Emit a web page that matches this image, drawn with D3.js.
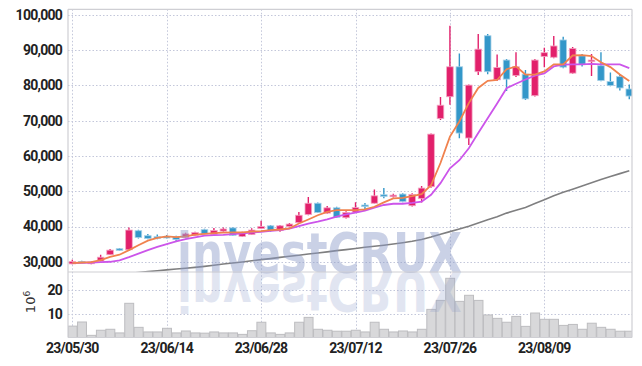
<!DOCTYPE html>
<html>
<head>
<meta charset="utf-8">
<script src="https://cdn.jsdelivr.net/npm/d3@7"></script>
<style>
  body { margin: 0; background: #fff; }
  svg { display: block; }
  .tick text { font-family: "Roboto", sans-serif; font-weight: bold; font-size: 14px; letter-spacing: -0.75px; fill: #222; }
</style>
</head>
<body>
<div id="chart"></div>
<script>
// trading days shown on the chart
const dates = ["23/05/30","23/05/31","23/06/01","23/06/02","23/06/05","23/06/07","23/06/08","23/06/09","23/06/12","23/06/13",
               "23/06/14","23/06/15","23/06/16","23/06/19","23/06/20","23/06/21","23/06/22","23/06/23","23/06/26","23/06/27",
               "23/06/28","23/06/29","23/06/30","23/07/03","23/07/04","23/07/05","23/07/06","23/07/07","23/07/10","23/07/11",
               "23/07/12","23/07/13","23/07/14","23/07/17","23/07/18","23/07/19","23/07/20","23/07/21","23/07/24","23/07/25",
               "23/07/26","23/07/27","23/07/28","23/07/31","23/08/01","23/08/02","23/08/03","23/08/04","23/08/07","23/08/08",
               "23/08/09","23/08/10","23/08/11","23/08/14","23/08/16","23/08/17","23/08/18","23/08/21","23/08/22","23/08/23"];

const open  = [29400,30100,29800,30200,32000,33700,33400,38800,37400,37100,
               37200,37100,36900,37500,39100,37800,38700,39600,37200,37700,
               39400,40200,38900,40000,41100,43400,46600,43800,45300,42500,
               44100,46100,46600,49000,48700,49200,45900,47900,51300,70600,
               76800,85300,65100,83900,94100,81600,87200,82800,83200,77100,
               88200,88000,92900,83500,88400,86800,85600,81100,82500,79000];
const high  = [30600,30300,30000,32000,33600,33900,39700,39100,37900,37700,
               37600,37400,38200,38500,39400,39600,39700,39800,38500,39500,
               41600,40400,40400,41000,44100,48400,46800,45800,45600,44300,
               46900,46700,50500,50900,49300,49400,49400,51500,66400,76700,
               96900,89100,80300,94600,94600,88800,87500,89400,84400,87500,
               90700,94000,93800,90900,88900,88900,89400,83700,83200,80300];
const low   = [29300,29800,29300,30100,31900,33100,33200,36600,36400,36400,
               36600,35700,36700,37300,37800,37700,38500,37300,37000,37600,
               39300,38500,38500,39800,41000,43200,43800,43600,42400,42300,
               44000,44600,46500,48000,48200,46900,45700,46800,51000,70200,
               74500,65000,63100,83000,83200,81300,78400,82400,75900,76900,
               85200,87700,84900,83300,85400,82700,81200,79800,78600,76100];
const close = [30100,29950,29900,31300,33300,33500,39000,36900,36600,36700,
               37000,36300,37900,38300,37900,38900,39300,37500,38300,39000,
               40000,38800,40200,40700,43200,46600,44000,45300,42600,44000,
               45400,45900,48700,48800,48900,47100,49100,50900,66200,74400,
               85300,66500,80100,90300,83900,85100,81800,85300,76200,87200,
               89300,91200,85200,90500,86000,87200,81400,80000,79300,77000];

// volume in millions of shares
const volume = [5.1,6.8,1.3,3.4,3.8,2.3,14.5,4.6,2.7,2.7,
                4.2,2.3,3.1,2.3,2.2,2.7,2.3,2.3,1.7,3.2,
                6.7,2.3,1.7,2.3,6.7,8.7,3.8,3.4,3.0,3.0,
                3.4,2.7,6.7,3.8,2.7,3.1,2.7,3.8,12.0,15.7,
                24.8,15.3,17.8,15.7,9.7,8.3,6.7,9.1,5.0,10.5,
                7.9,7.9,5.4,5.8,3.8,6.3,4.6,3.8,3.0,3.0];

// moving averages
const ma5  = [29600,29800,29900,30500,31400,32000,33300,34700,36000,36800,
              37200,37000,37200,37700,37900,38100,38250,38350,38350,38550,
              38700,39000,39150,39450,40850,42000,43200,44150,44650,44650,
              44650,44850,45600,46850,48000,48150,48600,49200,51700,58000,
              65500,69800,75000,79300,81300,81550,84600,85400,83100,83100,
              84000,86000,86000,88500,88600,88350,86600,85200,83100,81300];
const ma20 = [29600,29700,29800,29900,30000,30400,31300,32300,33300,34200,
              35000,35800,36400,36900,37400,37550,37650,37850,38050,38250,
              38500,38750,39000,39400,40100,40850,41400,42050,42800,43450,
              43950,44500,45350,46100,46450,46450,46700,47050,49000,52300,
              56500,58800,62200,66500,70700,74900,79200,80500,81700,82800,
              83400,85400,85900,86000,86000,86100,86000,86000,86000,84900];
const ma60 = [25200,25450,25700,25950,26200,26450,26700,26950,27200,27450,
              27700,27950,28150,28400,28700,29000,29350,29650,29950,30300,
              30600,30900,31250,31550,31850,32200,32500,32800,33150,33450,
              33750,34100,34400,34700,35050,35400,35800,36300,37000,37800,
              38550,39300,40100,41000,41900,42800,43800,44600,45400,46500,
              47600,48700,49700,50600,51500,52400,53300,54200,55000,55800];

const priceTicks = [30000,40000,50000,60000,70000,80000,90000,100000];
const volTicks = [10, 20];
const dateTicks = ["23/05/30","23/06/14","23/06/28","23/07/12","23/07/26","23/08/09"];

const width = 642, height = 366;
const plot = {left: 68, right: 632, top: 9.3, split: 272, bottom: 337.5};

const svg = d3.select("#chart").append("svg")
    .attr("width", width)
    .attr("height", height);

const x = d3.scaleBand().domain(dates).range([67.6, 634]).padding(0);
const xc = d => x(d) + x.bandwidth() / 2;
const y = d3.scaleLinear().domain([27100, 101600]).range([plot.split, plot.top]);
const yv = d3.scaleLinear().domain([0, 27.4]).range([338.5, plot.split]);

const defs = svg.append("defs");
defs.append("clipPath").attr("id", "clipP").append("rect")
    .attr("x", plot.left).attr("y", plot.top)
    .attr("width", plot.right - plot.left).attr("height", plot.split - plot.top);
defs.append("clipPath").attr("id", "clipV").append("rect")
    .attr("x", plot.left).attr("y", plot.split)
    .attr("width", plot.right - plot.left).attr("height", plot.bottom - plot.split);

// grid
const grid = svg.append("g").attr("stroke", "#c3c7da").attr("stroke-dasharray", "1.5,2");
grid.selectAll(".hg").data(priceTicks).enter().append("line")
    .attr("x1", plot.left).attr("x2", plot.right)
    .attr("y1", d => Math.round(y(d)) + 0.5).attr("y2", d => Math.round(y(d)) + 0.5);
grid.selectAll(".vg").data(volTicks).enter().append("line")
    .attr("x1", plot.left).attr("x2", plot.right)
    .attr("y1", d => Math.round(yv(d)) + 0.5).attr("y2", d => Math.round(yv(d)) + 0.5);
grid.selectAll(".xg").data(dateTicks).enter().append("line")
    .attr("x1", d => Math.round(xc(d)) + 0.5).attr("x2", d => Math.round(xc(d)) + 0.5)
    .attr("y1", plot.top).attr("y2", plot.bottom);

// volume bars
svg.append("g").attr("clip-path", "url(#clipV)")
  .selectAll("rect").data(volume).enter().append("rect")
    .attr("x", (d, i) => x(dates[i]) + 0.5)
    .attr("width", x.bandwidth() - 0.5)
    .attr("y", d => yv(d))
    .attr("height", d => 340 - yv(d))
    .attr("fill", "#d8d8da")
    .attr("stroke", "#bdbdc0")
    .attr("stroke-width", 1);

// candles
const up = "#e2206b", down = "#3397c9";
const cg = svg.append("g").attr("clip-path", "url(#clipP)");
const candle = cg.selectAll(".c").data(dates).enter().append("g");
candle.append("line")
    .attr("x1", d => xc(d)).attr("x2", d => xc(d))
    .attr("y1", (d, i) => y(high[i])).attr("y2", (d, i) => y(low[i]))
    .attr("stroke", (d, i) => close[i] >= open[i] ? up : down)
    .attr("stroke-width", 1.4);
candle.append("rect")
    .attr("x", d => xc(d) - 3.3)
    .attr("width", 6.6)
    .attr("y", (d, i) => y(Math.max(open[i], close[i])))
    .attr("height", (d, i) => Math.max(1.6, Math.abs(y(open[i]) - y(close[i]))))
    .attr("fill", (d, i) => close[i] >= open[i] ? up : down)
    .attr("stroke", (d, i) => close[i] >= open[i] ? "#f3a6c4" : "#a6d0e8")
    .attr("stroke-width", 0.8);

// moving average lines
const line = d3.line().x((d, i) => xc(dates[i])).y(d => y(d));
cg.append("path").datum(ma60).attr("d", line)
    .attr("fill", "none").attr("stroke", "#7f7f80").attr("stroke-width", 1.6);
cg.append("path").datum(ma20).attr("d", line)
    .attr("fill", "none").attr("stroke", "#cc55ea").attr("stroke-width", 1.8);
cg.append("path").datum(ma5).attr("d", line)
    .attr("fill", "none").attr("stroke", "#f0824e").attr("stroke-width", 1.8);

// watermark with its mirror image under the price panel
const wm = svg.append("g");
wm.append("text")
    .attr("x", 177).attr("y", plot.split)
    .attr("textLength", 285).attr("lengthAdjust", "spacingAndGlyphs")
    .style("font-family", "DejaVu Sans").style("font-weight", "bold").style("font-size", "55px")
    .attr("fill", "#8c9bc8").attr("opacity", 0.45)
    .text("investCRUX");
wm.append("g").attr("clip-path", "url(#clipV)")
  .append("text")
    .attr("x", 177).attr("y", plot.split)
    .attr("transform", `translate(0,${2 * plot.split}) scale(1,-1)`)
    .attr("textLength", 285).attr("lengthAdjust", "spacingAndGlyphs")
    .style("font-family", "DejaVu Sans").style("font-weight", "bold").style("font-size", "55px")
    .attr("fill", "#8c9bc8").attr("opacity", 0.25)
    .text("investCRUX");

// frame
const frame = svg.append("g").attr("stroke", "#cfcfd4").attr("stroke-width", 1.2);
frame.append("line").attr("x1", plot.left).attr("x2", plot.right).attr("y1", plot.top).attr("y2", plot.top);
frame.append("line").attr("x1", plot.left).attr("x2", plot.left).attr("y1", plot.top).attr("y2", plot.bottom);
frame.append("line").attr("x1", plot.right).attr("x2", plot.right).attr("y1", plot.top).attr("y2", plot.bottom);
frame.append("line").attr("x1", plot.left).attr("x2", plot.right).attr("y1", plot.split).attr("y2", plot.split);
frame.append("line").attr("x1", plot.left).attr("x2", plot.right).attr("y1", plot.bottom).attr("y2", plot.bottom);

// axes
const yAxis = svg.append("g").attr("transform", `translate(${plot.left},0)`)
    .call(d3.axisLeft(y).tickValues(priceTicks).tickSize(0).tickPadding(6).tickFormat(d3.format(",")));
const vAxis = svg.append("g").attr("transform", `translate(${plot.left},0)`)
    .call(d3.axisLeft(yv).tickValues(volTicks).tickSize(0).tickPadding(6));
const xAxis = svg.append("g").attr("transform", `translate(0,${plot.bottom})`)
    .call(d3.axisBottom(x).tickValues(dateTicks).tickSize(0).tickPadding(6));
[yAxis, vAxis, xAxis].forEach(a => a.select(".domain").remove());

// volume unit label
const unit = svg.append("text")
    .attr("transform", "translate(35,302) rotate(-90)")
    .attr("text-anchor", "middle")
    .style("font-family", "DejaVu Sans").style("font-size", "13px").attr("fill", "#333");
unit.append("tspan").text("10");
unit.append("tspan").attr("dy", -5).style("font-size", "9px").text("6");
</script>
</body>
</html>
